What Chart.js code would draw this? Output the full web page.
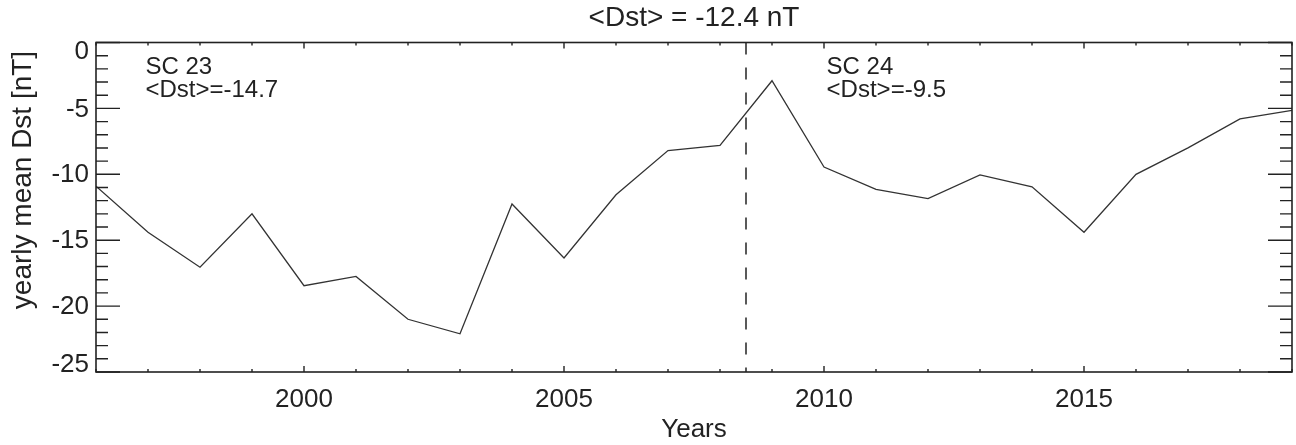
<!DOCTYPE html>
<html>
<head>
<meta charset="utf-8">
<style>
  html, body { margin: 0; padding: 0; background: #fff; }
  #wrap { width: 1296px; height: 445px; }
</style>
<script src="https://cdn.jsdelivr.net/npm/chart.js@4/dist/chart.umd.min.js"></script>
</head>
<body>
<div id="wrap"><canvas id="canvas"></canvas></div>
<script>
const years = [1996, 1997, 1998, 1999, 2000, 2001, 2002, 2003, 2004, 2005, 2006, 2007,
               2008, 2009, 2010, 2011, 2012, 2013, 2014, 2015, 2016, 2017, 2018, 2019];
const dstMean = [-10.9, -14.4, -17.05, -13.0, -18.45, -17.75, -21.0, -22.1, -12.25, -16.35, -11.55, -8.2,
                 -7.8, -2.9, -9.45, -11.15, -11.85, -10.05, -10.95, -14.4, -10.0, -8.0, -5.8, -5.15];
const xTicks = [2000, 2005, 2010, 2015];
const yTicks = [-25, -20, -15, -10, -5, 0];
const cycleBoundary = 2008.5;
const cycleLabels = [
  { year: 1996.95, lines: ['SC 23', '<Dst>=-14.7'] },
  { year: 2010.05, lines: ['SC 24', '<Dst>=-9.5'] }
];

const FONT = '"Liberation Sans", Arial, Helvetica, sans-serif';
const INK = '#222';

// IDL style box: frame on all sides, inward ticks, minor ticks every unit
const framePlugin = {
  id: 'frame',
  afterDraw(chart) {
    const ctx = chart.ctx;
    const a = chart.chartArea;
    const xs = chart.scales.x, ys = chart.scales.y;
    ctx.save();
    ctx.strokeStyle = INK;
    ctx.lineWidth = 1.6;
    ctx.strokeRect(a.left, a.top, a.right - a.left, a.bottom - a.top);
    ctx.lineWidth = 1.4;
    ctx.beginPath();
    for (let v = xs.min; v <= xs.max; v++) {
      const px = xs.getPixelForValue(v);
      const len = v % 5 === 0 ? 6 : 3;
      ctx.moveTo(px, a.bottom); ctx.lineTo(px, a.bottom - len);
      ctx.moveTo(px, a.top); ctx.lineTo(px, a.top + len);
    }
    for (let v = ys.min; v <= ys.max; v++) {
      const py = ys.getPixelForValue(v);
      const len = v % 5 === 0 ? 24 : 12;
      ctx.moveTo(a.left, py); ctx.lineTo(a.left + len, py);
      ctx.moveTo(a.right, py); ctx.lineTo(a.right - len, py);
    }
    ctx.stroke();

    ctx.fillStyle = INK;

    // y tick labels, end labels kept inside the box height
    ctx.font = '26px ' + FONT;
    ctx.textAlign = 'right';
    ctx.textBaseline = 'middle';
    yTicks.forEach(v => {
      let py = ys.getPixelForValue(v);
      py = Math.min(Math.max(py, a.top + 8), a.bottom - 8);
      ctx.fillText(String(v), a.left - 7, py + 1);
    });

    // y axis title
    ctx.save();
    ctx.font = '28px ' + FONT;
    ctx.textAlign = 'center';
    ctx.textBaseline = 'alphabetic';
    ctx.translate(31, 180);
    ctx.rotate(-Math.PI / 2);
    ctx.fillText('yearly mean Dst [nT]', 0, 0);
    ctx.restore();

    ctx.font = '24px ' + FONT;
    ctx.textAlign = 'left';
    ctx.textBaseline = 'alphabetic';
    cycleLabels.forEach(c => {
      const px = xs.getPixelForValue(c.year);
      c.lines.forEach((t, i) => ctx.fillText(t, px, a.top + 31 + i * 23));
    });
    ctx.restore();
  }
};

const ctx = document.getElementById('canvas').getContext('2d');
new Chart(ctx, {
  type: 'line',
  data: {
    datasets: [
      {
        data: years.map((y, i) => ({ x: y, y: dstMean[i] })),
        borderColor: '#333',
        borderWidth: 1.3,
        pointRadius: 0,
        tension: 0
      },
      {
        data: [{ x: cycleBoundary, y: 0 }, { x: cycleBoundary, y: -25 }],
        borderColor: INK,
        borderWidth: 1.5,
        borderDash: [12, 13],
        pointRadius: 0
      }
    ]
  },
  options: {
    responsive: true,
    maintainAspectRatio: false,
    animation: false,
    layout: { padding: { left: 0, right: 4, top: 0, bottom: 0 } },
    plugins: {
      legend: { display: false },
      tooltip: { enabled: false },
      title: {
        display: true,
        fullSize: false,
        text: '<Dst> = -12.4 nT',
        color: INK,
        font: { family: FONT, size: 28, weight: 'normal' },
        padding: { top: 1, bottom: 7.9 }
      }
    },
    scales: {
      x: {
        type: 'linear',
        min: 1996,
        max: 2019,
        grid: { display: false, drawTicks: false },
        border: { display: false },
        afterBuildTicks: s => { s.ticks = xTicks.map(v => ({ value: v })); },
        afterFit: s => { s.height = 73; },
        ticks: {
          color: INK,
          font: { family: FONT, size: 26 },
          padding: 12,
          maxRotation: 0,
          callback: v => String(v)
        },
        title: {
          display: true,
          text: 'Years',
          color: INK,
          font: { family: FONT, size: 26 },
          padding: 0
        }
      },
      y: {
        min: -25,
        max: 0,
        grid: { display: false, drawTicks: false },
        border: { display: false },
        afterBuildTicks: s => { s.ticks = yTicks.map(v => ({ value: v })); },
        afterFit: s => { s.width = 96; },
        ticks: { display: false }
      }
    }
  },
  plugins: [framePlugin]
});
</script>
</body>
</html>
